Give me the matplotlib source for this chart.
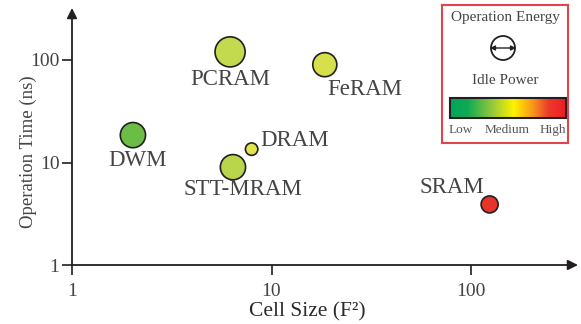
import numpy as np
import matplotlib
matplotlib.use('Agg')
import matplotlib.pyplot as plt
from matplotlib.colors import LinearSegmentedColormap
from matplotlib.patches import Circle

plt.rcParams['font.family'] = ['Liberation Serif', 'DejaVu Serif']

# data
nomes = ['PCRAM', 'FeRAM', 'DWM', 'DRAM', 'STT-MRAM', 'SRAM']
tamanho_celula = [6.2, 18.5, 2.02, 7.95, 6.41, 124]      # F^2
tempo_operacao = [120, 90, 18.5, 13.5, 9.0, 3.9]         # ns
energia = [470, 300, 330, 80, 330, 150]                  # marker area
cores = ['#c3d94e', '#d6e04a', '#6abd45', '#e3e44c', '#b9d54b', '#e8332a']

# label offsets (points) and alignment
rotulos = {
    'PCRAM': (0, -20, 'center', 'center'),
    'FeRAM': (2, -18, 'left', 'center'),
    'DWM': (3, -18, 'center', 'center'),
    'DRAM': (6, 6, 'left', 'center'),
    'STT-MRAM': (7, -16, 'center', 'center'),
    'SRAM': (-4, 12, 'right', 'center'),
}

W, H = 581, 324
fig = plt.figure(figsize=(W / 100, H / 100), dpi=100)

x0, y0, x1, y1 = 72, 265, 578, 8
dec_x, dec_y = 199.5, 102.5
ax = fig.add_axes([x0 / W, (H - y0) / H, (x1 - x0) / W, (y0 - y1) / H])
ax.set_xscale('log')
ax.set_yscale('log')
ax.set_xlim(1, 10 ** ((x1 - x0) / dec_x))
ax.set_ylim(1, 10 ** ((y0 - y1) / dec_y))
ax.patch.set_alpha(0)

for s in ax.spines.values():
    s.set_visible(False)

# eixos com setas
ax.annotate('', xy=(1.0, 0), xytext=(0, 0), xycoords='axes fraction',
            arrowprops=dict(arrowstyle='-|>', color='#231f20', lw=1.3,
                            mutation_scale=15, shrinkA=0, shrinkB=0))
ax.annotate('', xy=(0, 1.0), xytext=(0, 0), xycoords='axes fraction',
            arrowprops=dict(arrowstyle='-|>', color='#231f20', lw=1.3,
                            mutation_scale=15, shrinkA=0, shrinkB=0))

ax.set_xticks([1, 10, 100])
ax.set_xticklabels(['1', '10', '100'])
ax.set_yticks([1, 10, 100])
ax.set_yticklabels(['1', '10', '100'])
ax.minorticks_off()
ax.tick_params(axis='both', direction='out', length=7, width=1.2,
               color='#231f20', labelsize=14, labelcolor='#444444')
ax.tick_params(axis='x', pad=6)
ax.tick_params(axis='y', pad=2)

ax.set_xlabel('Cell Size (F²)', fontsize=15.5, color='#2a2a2a')
ax.set_ylabel('Operation Time (ns)', fontsize=13.5, color='#444444')
ax.xaxis.set_label_coords(0.465, -0.145)
ax.yaxis.set_label_coords(-0.07, 0.44)

ax.scatter(tamanho_celula, tempo_operacao, s=energia, c=cores,
           edgecolors='#231f20', linewidths=1.2, zorder=3)

for nome, xv, yv in zip(nomes, tamanho_celula, tempo_operacao):
    dx, dy, ha, va = rotulos[nome]
    ax.annotate(nome, (xv, yv), xytext=(dx, dy), textcoords='offset points',
                ha=ha, va=va, fontsize=16.5, color='#444444')

# legenda em unidades de pixel
lx0, ly0, lx1, ly1 = 442, 5, 568, 143
leg = fig.add_axes([lx0 / W, (H - ly1) / H, (lx1 - lx0) / W, (ly1 - ly0) / H])
leg.set_xticks([])
leg.set_yticks([])
for s in leg.spines.values():
    s.set_color('#e0454b')
    s.set_linewidth(1.5)

leg.text(63, 13, 'Operation Energy', ha='center', va='center',
         fontsize=11, color='#444444')
leg.add_patch(Circle((61, 43), 12, fill=False, ec='#231f20', lw=1.3))
leg.annotate('', xy=(74, 43), xytext=(48, 43),
             arrowprops=dict(arrowstyle='<|-|>', color='#231f20', lw=1.0,
                             mutation_scale=7, shrinkA=0, shrinkB=0))
leg.text(63, 75, 'Idle Power', ha='center', va='center',
         fontsize=11, color='#444444')

paradas = [(0.0, '#00a65a'), (0.15, '#0fa955'), (0.35, '#8dc63f'),
           (0.55, '#fff200'), (0.72, '#f7941d'), (0.85, '#ed3a2a'),
           (1.0, '#ed1c24')]
cmap = LinearSegmentedColormap.from_list('idle', paradas)
grad = np.linspace(0, 1, 256).reshape(1, -1)
leg.imshow(grad, cmap=cmap, aspect='auto', extent=(8, 124, 113, 93))
leg.add_patch(plt.Rectangle((8, 93), 116, 20, fill=False, ec='#231f20', lw=1.5))
leg.set_xlim(0, lx1 - lx0)
leg.set_ylim(ly1 - ly0, 0)

leg.text(7, 125, 'Low', ha='left', va='center', fontsize=9.5, color='#555555')
leg.text(65, 125, 'Medium', ha='center', va='center', fontsize=9.5, color='#555555')
leg.text(124, 125, 'High', ha='right', va='center', fontsize=9.5, color='#555555')

fig.savefig('out.png', dpi=100)
